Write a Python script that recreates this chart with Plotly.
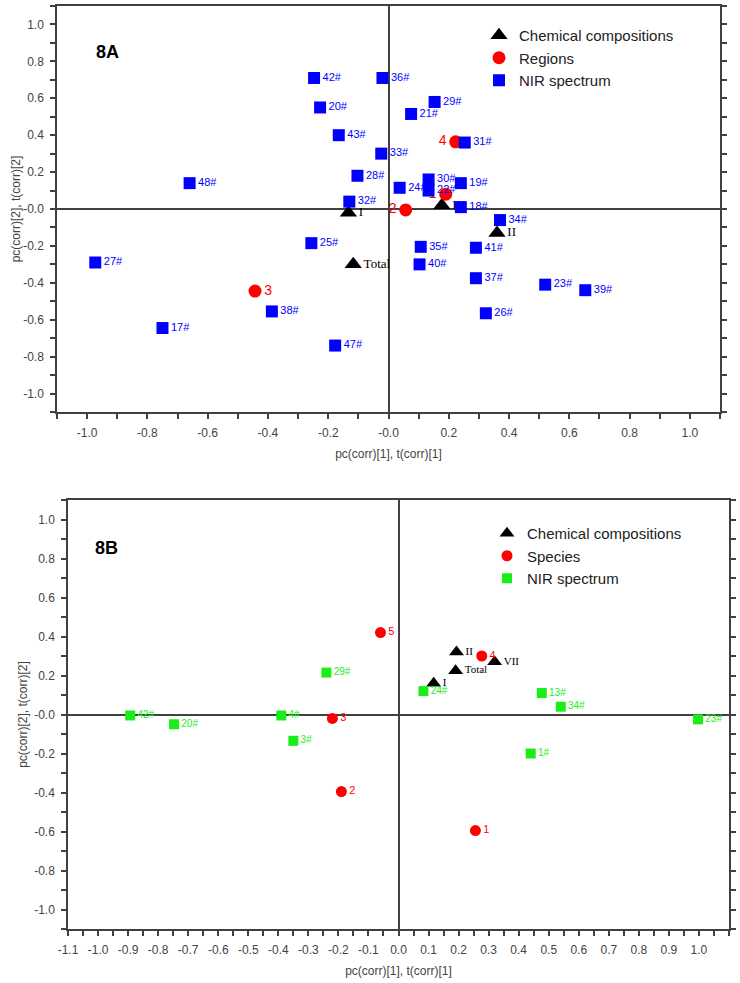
import plotly.graph_objects as go

# ---------------- Panel 8A data ----------------
A_CHEM_NAMES = ["I", "III", "II", "Total"]
A_CHEM_X = [-0.133, 0.177, 0.36, -0.117]
A_CHEM_Y = [-0.02, 0.02, -0.13, -0.30]

A_REG_NAMES = ["1", "2", "3", "4"]
A_REG_X = [0.19, 0.057, -0.443, 0.223]
A_REG_Y = [0.08, -0.005, -0.445, 0.364]
A_REG_POS = ["middle left", "middle left", "middle right", "middle left"]

A_NIR_NAMES = ["42#", "20#", "43#", "48#", "28#", "32#", "25#", "36#", "29#", "21#",
               "31#", "33#", "30#", "22#", "24#", "19#", "18#", "34#", "35#", "41#",
               "40#", "37#", "23#", "39#", "26#", "27#", "38#", "17#", "47#"]
A_NIR_X = [-0.247, -0.227, -0.165, -0.66, -0.103, -0.13, -0.256, -0.02, 0.153, 0.075,
           0.253, -0.024, 0.133, 0.133, 0.037, 0.24, 0.24, 0.37, 0.107, 0.29,
           0.103, 0.29, 0.52, 0.653, 0.323, -0.973, -0.387, -0.75, -0.177]
A_NIR_Y = [0.71, 0.55, 0.40, 0.14, 0.18, 0.04, -0.185, 0.71, 0.58, 0.515,
           0.36, 0.30, 0.16, 0.10, 0.115, 0.14, 0.01, -0.06, -0.205, -0.21,
           -0.30, -0.375, -0.41, -0.44, -0.565, -0.29, -0.555, -0.645, -0.74]

# ---------------- Panel 8B data ----------------
B_CHEM_NAMES = ["II", "VII", "Total", "I"]
B_CHEM_X = [0.193, 0.32, 0.19, 0.117]
B_CHEM_Y = [0.32, 0.27, 0.225, 0.16]

B_SPE_NAMES = ["1", "2", "3", "4", "5"]
B_SPE_X = [0.256, -0.19, -0.22, 0.277, -0.06]
B_SPE_Y = [-0.595, -0.395, -0.02, 0.30, 0.42]

B_NIR_NAMES = ["42#", "20#", "4#", "29#", "3#", "24#", "13#", "34#", "23#", "1#"]
B_NIR_X = [-0.893, -0.747, -0.39, -0.24, -0.35, 0.083, 0.477, 0.54, 0.997, 0.44]
B_NIR_Y = [-0.005, -0.05, -0.005, 0.215, -0.135, 0.12, 0.11, 0.04, -0.025, -0.20]

# ---------------- Tick labels ----------------
A_X_TICKVALS = [-1.1, -1.0, -0.9, -0.8, -0.7, -0.6, -0.5, -0.4, -0.3, -0.2, -0.1, 0.0,
                0.1, 0.2, 0.3, 0.4, 0.5, 0.6, 0.7, 0.8, 0.9, 1.0, 1.1]
A_X_TICKTEXT = ["", "-1.0", "", "-0.8", "", "-0.6", "", "-0.4", "", "-0.2", "", "-0.0",
                "", "0.2", "", "0.4", "", "0.6", "", "0.8", "", "1.0", ""]
Y_TICKVALS = [1.1, 1.0, 0.9, 0.8, 0.7, 0.6, 0.5, 0.4, 0.3, 0.2, 0.1, 0.0,
              -0.1, -0.2, -0.3, -0.4, -0.5, -0.6, -0.7, -0.8, -0.9, -1.0, -1.1]
Y_TICKTEXT = ["", "1.0", "", "0.8", "", "0.6", "", "0.4", "", "0.2", "", "-0.0",
              "", "-0.2", "", "-0.4", "", "-0.6", "", "-0.8", "", "-1.0", ""]
B_X_TICKVALS = [-1.1, -1.05, -1.0, -0.95, -0.9, -0.85, -0.8, -0.75, -0.7, -0.65, -0.6,
                -0.55, -0.5, -0.45, -0.4, -0.35, -0.3, -0.25, -0.2, -0.15, -0.1, -0.05,
                0.0, 0.05, 0.1, 0.15, 0.2, 0.25, 0.3, 0.35, 0.4, 0.45, 0.5, 0.55, 0.6,
                0.65, 0.7, 0.75, 0.8, 0.85, 0.9, 0.95, 1.0, 1.05, 1.1]
B_X_TICKTEXT = ["-1.1", "", "-1.0", "", "-0.9", "", "-0.8", "", "-0.7", "", "-0.6",
                "", "-0.5", "", "-0.4", "", "-0.3", "", "-0.2", "", "-0.1", "",
                "0.0", "", "0.1", "", "0.2", "", "0.3", "", "0.4", "", "0.5", "", "0.6",
                "", "0.7", "", "0.8", "", "0.9", "", "1.0", "", ""]

BLUE = "#0000ff"
RED = "#ff0000"
GREEN = "#19ee19"
AX = "#404040"
SANS = "Liberation Sans, Arial, sans-serif"
SERIF = "Liberation Serif, Times New Roman, serif"

fig = go.Figure()

# ---- 8A ----
fig.add_trace(go.Scatter(
    x=A_CHEM_X, y=A_CHEM_Y, text=A_CHEM_NAMES, mode="markers+text",
    textposition="middle right", name="Chemical compositions",
    marker=dict(symbol="triangle-up", size=15, color="black"),
    textfont=dict(family=SERIF, size=13, color="black"),
    xaxis="x", yaxis="y", legend="legend"))
fig.add_trace(go.Scatter(
    x=A_REG_X, y=A_REG_Y, text=A_REG_NAMES, mode="markers+text",
    textposition=A_REG_POS, name="Regions",
    marker=dict(symbol="circle", size=13, color=RED),
    textfont=dict(family=SANS, size=14, color=RED),
    xaxis="x", yaxis="y", legend="legend"))
fig.add_trace(go.Scatter(
    x=A_NIR_X, y=A_NIR_Y, text=A_NIR_NAMES, mode="markers+text",
    textposition="middle right", name="NIR spectrum",
    marker=dict(symbol="square", size=12, color=BLUE),
    textfont=dict(family=SANS, size=11, color=BLUE),
    xaxis="x", yaxis="y", legend="legend"))

# ---- 8B ----
fig.add_trace(go.Scatter(
    x=B_CHEM_X, y=B_CHEM_Y, text=B_CHEM_NAMES, mode="markers+text",
    textposition="middle right", name="Chemical compositions",
    marker=dict(symbol="triangle-up", size=13, color="black"),
    textfont=dict(family=SERIF, size=11, color="black"),
    xaxis="x2", yaxis="y2", legend="legend2"))
fig.add_trace(go.Scatter(
    x=B_SPE_X, y=B_SPE_Y, text=B_SPE_NAMES, mode="markers+text",
    textposition="middle right", name="Species",
    marker=dict(symbol="circle", size=11, color=RED),
    textfont=dict(family=SANS, size=11, color=RED),
    xaxis="x2", yaxis="y2", legend="legend2"))
fig.add_trace(go.Scatter(
    x=B_NIR_X, y=B_NIR_Y, text=B_NIR_NAMES, mode="markers+text",
    textposition="middle right", name="NIR spectrum",
    marker=dict(symbol="square", size=10, color=GREEN),
    textfont=dict(family=SANS, size=10, color=GREEN),
    xaxis="x2", yaxis="y2", legend="legend2"))

W, H = 740, 983


def xdom(l, r):
    return [l / W, r / W]


def ydom(t, b):
    return [1 - b / H, 1 - t / H]


common = dict(showgrid=False, showline=True, linecolor=AX, linewidth=1.5,
              zeroline=True, zerolinecolor=AX, zerolinewidth=1.5,
              ticks="outside", ticklen=5, tickwidth=1.5, tickcolor=AX,
              ticklabelstandoff=4, automargin=False,
              tickfont=dict(family=SANS, size=12, color="#444444"),
              tickmode="array", range=[-1.1, 1.1], fixedrange=True,
              title_font=dict(family=SANS, size=12, color="#444444"))

fig.update_layout(
    width=W, height=H, margin=dict(l=0, r=0, t=0, b=0, autoexpand=False),
    paper_bgcolor="white", plot_bgcolor="white",
    xaxis=dict(common, domain=xdom(57, 720), anchor="y", mirror=True,
               tickvals=A_X_TICKVALS, ticktext=A_X_TICKTEXT,
               title=dict(text="pc(corr)[1], t(corr)[1]", standoff=10)),
    yaxis=dict(common, domain=ydom(6, 412), anchor="x", mirror="ticks",
               tickvals=Y_TICKVALS, ticktext=Y_TICKTEXT,
               title=dict(text="pc(corr)[2], t(corr)[2]", standoff=0)),
    xaxis2=dict(common, domain=xdom(68, 729), anchor="y2", mirror=True,
                tickvals=B_X_TICKVALS, ticktext=B_X_TICKTEXT,
                title=dict(text="pc(corr)[1], t(corr)[1]", standoff=10)),
    yaxis2=dict(common, domain=ydom(500, 929), anchor="x2", mirror="ticks",
                tickvals=Y_TICKVALS, ticktext=Y_TICKTEXT,
                title=dict(text="pc(corr)[2], t(corr)[2]", standoff=4)),
    legend=dict(x=479 / W, y=1 - 19 / H, xanchor="left", yanchor="top",
                bgcolor="rgba(0,0,0,0)", tracegroupgap=0,
                font=dict(family=SANS, size=15, color="#222222")),
    legend2=dict(x=487 / W, y=1 - 517 / H, xanchor="left", yanchor="top",
                 bgcolor="rgba(0,0,0,0)", tracegroupgap=0,
                 font=dict(family=SANS, size=15, color="#222222")),
    annotations=[
        dict(text="<b>8A</b>", x=-0.933, y=0.85, xref="x", yref="y",
             showarrow=False, font=dict(family=SANS, size=18, color="black")),
        dict(text="<b>8B</b>", x=-0.973, y=0.856, xref="x2", yref="y2",
             showarrow=False, font=dict(family=SANS, size=18, color="black")),
    ],
    showlegend=True,
)

fig.write_html("out.html", config={"displayModeBar": False},
               post_script="document.body.style.margin='0px';")
